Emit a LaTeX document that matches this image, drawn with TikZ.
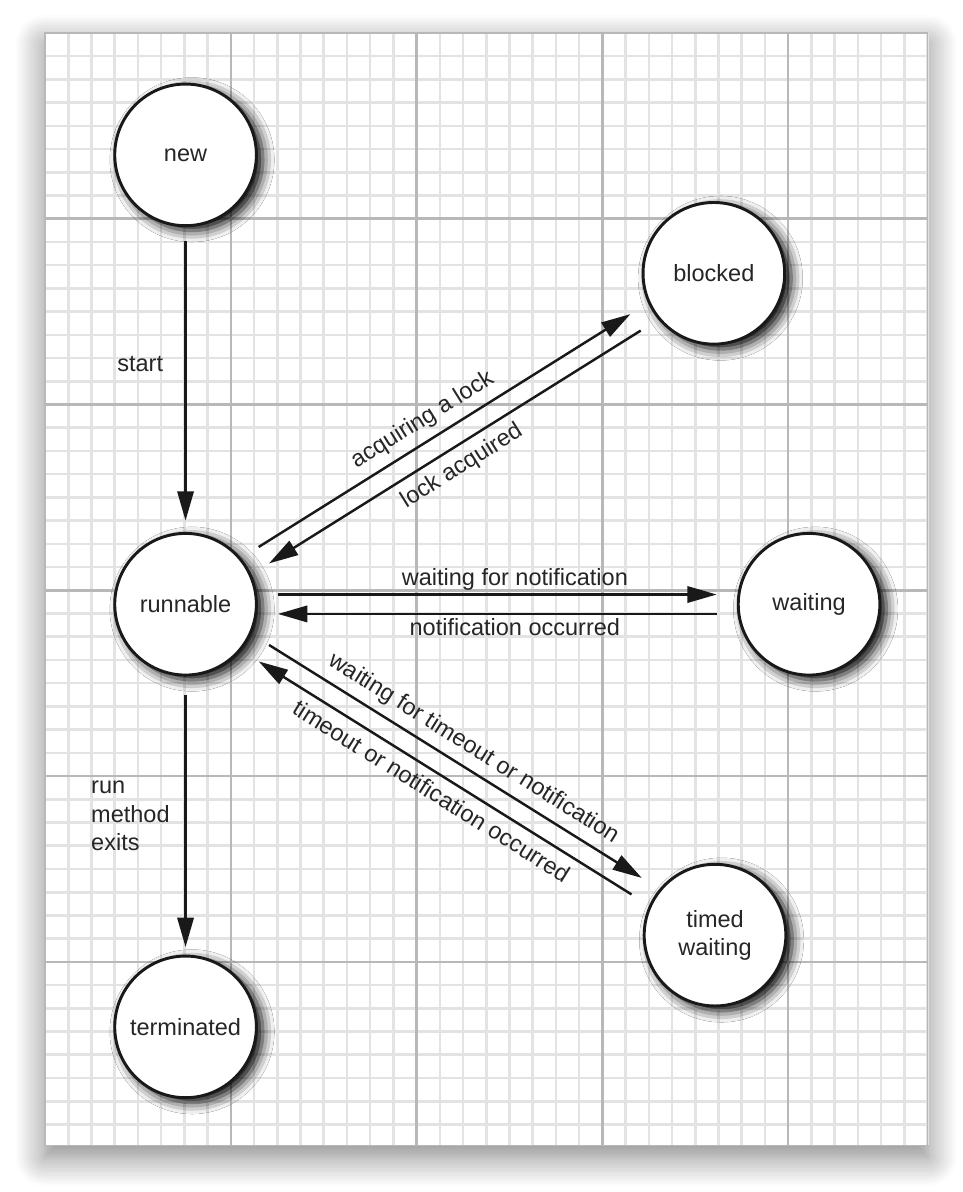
\documentclass[tikz,border=0pt]{standalone}
\usepackage{fontspec}
\setmainfont{Liberation Sans}
\usetikzlibrary{calc,arrows.meta,shadows.blur}

\tikzset{
	state/.style={circle, draw=black!90, line width=1.8pt, fill=white, text=black!85, minimum size=3.05cm, inner sep=0pt, align=center,
		blur shadow={shadow xshift=4pt, shadow yshift=-3pt, shadow blur radius=7pt, shadow opacity=100}},
	trans/.style={line width=1.5pt, color=black!90, -{Triangle[length=18pt, width=10pt]}},
	lbl/.style={inner sep=2pt, text=black!85},
}

\begin{document}
\begin{tikzpicture}[x=0.5cm, y=0.5cm, font=\fontsize{14.4}{17.4}\selectfont]
		%%%%% START %%%%%
		\useasboundingbox (-1.94, -1.91) rectangle (39.49, 49.42);
		
		\fill[white, blur shadow={shadow xshift=0pt, shadow yshift=-7pt, shadow blur radius=18pt, shadow blur steps=12, shadow opacity=50}] (0, 0.1) rectangle (38, 48);
		\draw[line width=1.6pt, color=black!11, step=0.5cm] (0, 0.1) grid (38, 48);
		\draw[line width=1.6pt, color=black!28, step=4cm] (0, 0.1) grid (38, 48);
		\draw[line width=0.8pt, color=black!28] (0, 0.1) rectangle (38, 48);
		
		\node[state] (new) at (6.05, 42.75) {new};
		\node[state] (runnable) at (6.05, 23.4) {runnable};
		\node[state] (terminated) at (6.05, 5.2) {terminated};
		\node[state] (blocked) at (28.8, 37.65) {blocked};
		\node[state] (waiting) at (32.9, 23.4) {waiting};
		\node[state] (timed) at (28.85, 9.15) {timed\\waiting};
		
		\draw[trans] ($(new)!1.85cm!(runnable)$) -- node[lbl, left=11pt, pos=0.44] {start} ($(runnable)!1.8cm!(new)$);
		\draw[trans] ($(runnable)!1.95cm!(terminated)$) -- node[lbl, left=7pt, pos=0.48, align=left] {run\\method\\exits} ($(terminated)!1.72cm!(runnable)$);
		
		\draw[trans] ($(runnable)!2cm!6:(blocked)$) -- node[lbl, sloped, above=3pt, pos=0.47] {acquiring a lock} ($(blocked)!2cm!-6:(runnable)$);
		\draw[trans] ($(blocked)!2cm!6:(runnable)$) -- node[lbl, sloped, below=3pt, pos=0.51] {lock acquired} ($(runnable)!2cm!-6:(blocked)$);
		
		\draw[trans] ($(runnable)!2cm!6:(waiting)$) -- node[lbl, above, pos=0.54] {waiting for notification} ($(waiting)!2cm!-6:(runnable)$);
		\draw[trans] ($(waiting)!2cm!6:(runnable)$) -- node[lbl, below, pos=0.46] {notification occurred} ($(runnable)!2cm!-6:(waiting)$);
		
		\draw[trans] ($(runnable)!2cm!6:(timed)$) -- node[lbl, sloped, above=3pt, pos=0.52] {waiting for timeout or notification} ($(timed)!2cm!-6:(runnable)$);
		\draw[trans] ($(timed)!2cm!6:(runnable)$) -- node[lbl, sloped, below=3pt, pos=0.51] {timeout or notification occurred} ($(runnable)!2cm!-6:(timed)$);
		
		%%%%% END %%%%%
	\end{tikzpicture}
\end{document}
